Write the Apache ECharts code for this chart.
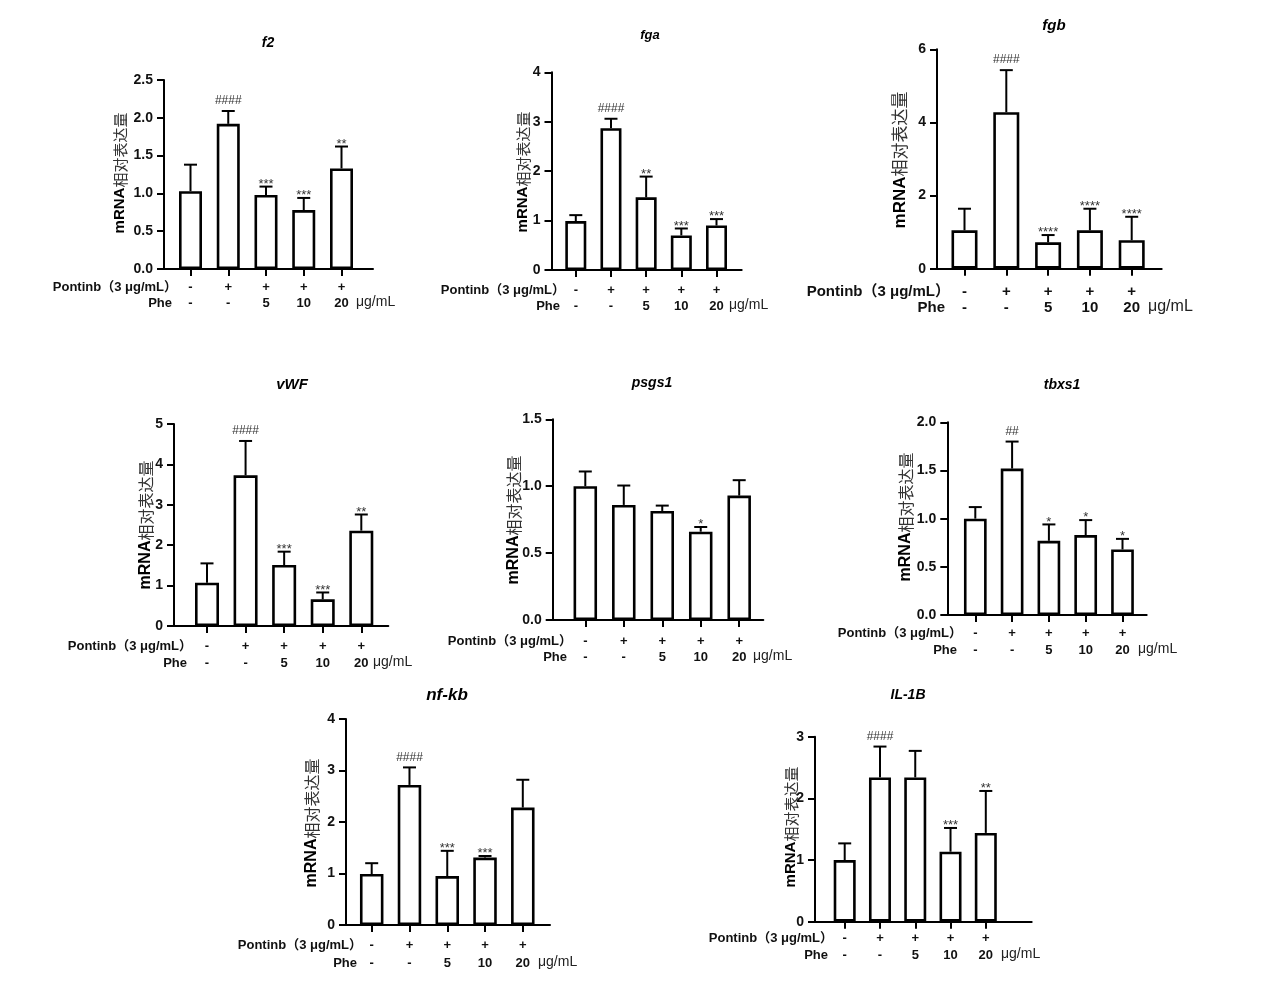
<!DOCTYPE html>
<html>
<head>
<meta charset="utf-8">
<script src="https://cdn.jsdelivr.net/npm/echarts@6/dist/echarts.min.js"></script>
<style>
  html, body { margin: 0; padding: 0; background: #fff; }
  #main { width: 1268px; height: 1008px; }
</style>
</head>
<body>
<div id="main"></div>
<script>
// treatment rows under each bar
const pontinbRow = ['-', '+', '+', '+', '+'];
const pheRow = ['-', '-', '5', '10', '20'];

// mean and error (upper SD) per gene
const f2Mean = [1.03, 1.92, 0.98, 0.78, 1.33];
const f2Sd = [0.35, 0.17, 0.11, 0.16, 0.29];
const f2Sig = ['', '####', '***', '***', '**'];

const fgaMean = [0.99, 2.87, 1.47, 0.70, 0.90];
const fgaSd = [0.12, 0.19, 0.42, 0.14, 0.13];
const fgaSig = ['', '####', '**', '***', '***'];

const fgbMean = [1.05, 4.28, 0.72, 1.05, 0.78];
const fgbSd = [0.59, 1.15, 0.20, 0.59, 0.64];
const fgbSig = ['', '####', '****', '****', '****'];

const vwfMean = [1.07, 3.73, 1.51, 0.66, 2.36];
const vwfSd = [0.48, 0.85, 0.33, 0.17, 0.40];
const vwfSig = ['', '####', '***', '***', '**'];

const psgs1Mean = [1.00, 0.86, 0.815, 0.66, 0.93];
const psgs1Sd = [0.11, 0.145, 0.04, 0.035, 0.115];
const psgs1Sig = ['', '', '', '*', ''];

const tbxs1Mean = [1.00, 1.52, 0.77, 0.83, 0.68];
const tbxs1Sd = [0.12, 0.28, 0.17, 0.155, 0.11];
const tbxs1Sig = ['', '##', '*', '*', '*'];

const nfkbMean = [0.99, 2.72, 0.95, 1.31, 2.28];
const nfkbSd = [0.21, 0.34, 0.49, 0.03, 0.54];
const nfkbSig = ['', '####', '***', '***', ''];

const il1bMean = [1.00, 2.34, 2.34, 1.135, 1.44];
const il1bSd = [0.27, 0.50, 0.43, 0.385, 0.68];
const il1bSig = ['', '####', '', '***', '**'];

const LATIN = '"Liberation Sans", Arial, "Noto Sans CJK SC", sans-serif';
const CJK = '"Noto Sans CJK SC", "Liberation Sans", sans-serif';

// panel layout in px: axis box, first/last bar centre, bar width, text spots
const panels = [
  { name: 'f2', mean: f2Mean, sd: f2Sd, sig: f2Sig, left: 164, end: 373, top: 80, zero: 269, c0: 190.5, c4: 341.5, bw: 23, ymax: 2.5, step: 0.5, dec: 1, title: [268, 43, 14], ylab: [120, 173, 15], rows: [287, 303], hdr: 172, unit: 356, fs: 12 },
  { name: 'fga', mean: fgaMean, sd: fgaSd, sig: fgaSig, left: 551.5, end: 741.7, top: 72.3, zero: 270, c0: 575.8, c4: 716.5, bw: 21, ymax: 4, step: 1, dec: 0, title: [650, 35, 13], ylab: [523, 172, 15], rows: [290, 306], hdr: 560, unit: 729, fs: 12 },
  { name: 'fgb', mean: fgbMean, sd: fgbSd, sig: fgbSig, left: 937, end: 1161.7, top: 49.3, zero: 268.7, c0: 964.5, c4: 1131.7, bw: 26, ymax: 6, step: 2, dec: 0, title: [1054, 26, 15], ylab: [900, 160, 17], rows: [292, 308], hdr: 945, unit: 1148, fs: 14 },
  { name: 'vWF', mean: vwfMean, sd: vwfSd, sig: vwfSig, left: 174, end: 388.3, top: 424, zero: 626, c0: 207, c4: 361.3, bw: 24, ymax: 5, step: 1, dec: 0, title: [292, 385, 15], ylab: [146, 525, 16], rows: [646, 663], hdr: 187, unit: 373, fs: 12 },
  { name: 'psgs1', mean: psgs1Mean, sd: psgs1Sd, sig: psgs1Sig, left: 552.7, end: 763.3, top: 419.3, zero: 620, c0: 585.3, c4: 739.2, bw: 23.5, ymax: 1.5, step: 0.5, dec: 1, title: [652, 383, 14], ylab: [514, 520, 16], rows: [641, 657], hdr: 567, unit: 753, fs: 12 },
  { name: 'tbxs1', mean: tbxs1Mean, sd: tbxs1Sd, sig: tbxs1Sig, left: 947.3, end: 1146.7, top: 422.3, zero: 615, c0: 975.3, c4: 1122.5, bw: 22.7, ymax: 2, step: 0.5, dec: 1, title: [1062, 385, 14], ylab: [906, 517, 16], rows: [633, 650], hdr: 957, unit: 1138, fs: 12 },
  { name: 'nf-kb', mean: nfkbMean, sd: nfkbSd, sig: nfkbSig, left: 346, end: 550, top: 719, zero: 925, c0: 371.7, c4: 522.8, bw: 23.5, ymax: 4, step: 1, dec: 0, title: [447, 695, 17], ylab: [312, 823, 16], rows: [945, 963], hdr: 357, unit: 538, fs: 12 },
  { name: 'IL-1B', mean: il1bMean, sd: il1bSd, sig: il1bSig, left: 815, end: 1031.7, top: 736.7, zero: 921.7, c0: 844.7, c4: 985.8, bw: 22, ymax: 3, step: 1, dec: 0, title: [908, 695, 14], ylab: [791, 827, 15], rows: [938, 955], hdr: 828, unit: 1001, fs: 12 }
];

const chart = echarts.init(document.getElementById('main'), null, { renderer: 'canvas' });

const grids = [], xAxes = [], yAxes = [], series = [], graphics = [];
const idx = [0, 1, 2, 3, 4];

panels.forEach(function (p, k) {
  const dc = (p.c4 - p.c0) / 4;
  const lh = p.rows[1] - p.rows[0];
  grids.push({ left: p.left, top: p.top, width: p.end - p.left, height: p.zero - p.top });

  xAxes.push({
    gridIndex: k,
    type: 'value',
    min: (p.left - p.c0) / dc,
    max: (p.end - p.c0) / dc,
    splitLine: { show: false },
    axisLine: { show: true, onZero: false, lineStyle: { color: '#000', width: 2 } },
    axisTick: { show: true, customValues: idx, length: 7, lineStyle: { color: '#000', width: 2 } },
    axisLabel: {
      show: true,
      customValues: idx,
      margin: p.rows[0] - p.zero - lh / 2,
      formatter: function (v) {
        const i = Math.round(v);
        return '{a|' + pontinbRow[i] + '}\n{a|' + pheRow[i] + '}';
      },
      rich: { a: { fontFamily: LATIN, fontWeight: 'bold', fontSize: p.fs + 1, lineHeight: lh, color: '#111' } }
    }
  });

  yAxes.push({
    gridIndex: k,
    type: 'value',
    min: 0,
    max: p.ymax,
    interval: p.step,
    splitLine: { show: false },
    axisLine: { show: true, onZero: false, lineStyle: { color: '#000', width: 2 } },
    axisTick: { show: true, length: 7, lineStyle: { color: '#000', width: 2 } },
    axisLabel: {
      margin: 11,
      fontFamily: LATIN,
      fontWeight: 'bold',
      fontSize: 14,
      color: '#111',
      formatter: function (v) { return v.toFixed(p.dec); }
    }
  });

  series.push({
    type: 'bar',
    xAxisIndex: k,
    yAxisIndex: k,
    barWidth: p.bw,
    itemStyle: { color: '#fff', borderColor: '#000', borderWidth: 2.6 },
    data: idx.map(function (i) { return [i, p.mean[i]]; }),
    z: 2
  });

  series.push({
    type: 'custom',
    xAxisIndex: k,
    yAxisIndex: k,
    z: 3,
    data: idx.map(function (i) { return [i, p.mean[i], p.sd[i]]; }),
    renderItem: function (params, api) {
      const i = api.value(0);
      const m = api.value(1);
      const s = api.value(2);
      const a = api.coord([i, m]);
      const b = api.coord([i, m + s]);
      const cap = 6.5;
      const label = p.sig[params.dataIndex];
      const hash = label.indexOf('#') >= 0;
      return {
        type: 'group',
        children: [
          { type: 'line', shape: { x1: a[0], y1: a[1], x2: b[0], y2: b[1] }, style: { stroke: '#000', lineWidth: 2 } },
          { type: 'line', shape: { x1: b[0] - cap, y1: b[1], x2: b[0] + cap, y2: b[1] }, style: { stroke: '#000', lineWidth: 2 } },
          {
            type: 'text',
            x: b[0],
            y: hash ? b[1] - 4 : b[1] + 4,
            style: {
              text: label,
              align: 'center',
              verticalAlign: 'bottom',
              fill: '#333',
              font: (hash ? '12px ' : '13px ') + LATIN
            }
          }
        ]
      };
    }
  });

  // panel title (gene name)
  graphics.push({
    type: 'text', x: p.title[0], y: p.title[1],
    style: {
      text: p.name, align: 'center', verticalAlign: 'middle', fill: '#000',
      font: 'italic bold ' + p.title[2] + 'px ' + LATIN
    }
  });

  // y axis name
  graphics.push({
    type: 'text', x: p.ylab[0], y: p.ylab[1], rotation: Math.PI / 2,
    style: {
      text: '{m|mRNA}{c|相对表达量}', align: 'center', verticalAlign: 'middle',
      rich: {
        m: { fontFamily: LATIN, fontWeight: 'bold', fontSize: p.ylab[2], fill: '#000' },
        c: { fontFamily: CJK, fontWeight: 'normal', fontSize: p.ylab[2], fill: '#333' }
      }
    }
  });

  // row headers and unit
  graphics.push({
    type: 'text', x: p.hdr + 5, y: p.rows[0],
    style: { text: 'Pontinb（3 μg/mL）', align: 'right', verticalAlign: 'middle', fill: '#111', font: 'bold ' + (p.fs + 1) + 'px ' + LATIN }
  });
  graphics.push({
    type: 'text', x: p.hdr, y: p.rows[1],
    style: { text: 'Phe', align: 'right', verticalAlign: 'middle', fill: '#111', font: 'bold ' + (p.fs + 1) + 'px ' + LATIN }
  });
  graphics.push({
    type: 'text', x: p.unit, y: p.rows[1] - 1,
    style: { text: 'μg/mL', align: 'left', verticalAlign: 'middle', fill: '#222', font: (p.fs + 2) + 'px ' + LATIN }
  });
});

chart.setOption({
  backgroundColor: '#fff',
  animation: false,
  grid: grids,
  xAxis: xAxes,
  yAxis: yAxes,
  series: series,
  graphic: graphics
});
</script>
</body>
</html>
